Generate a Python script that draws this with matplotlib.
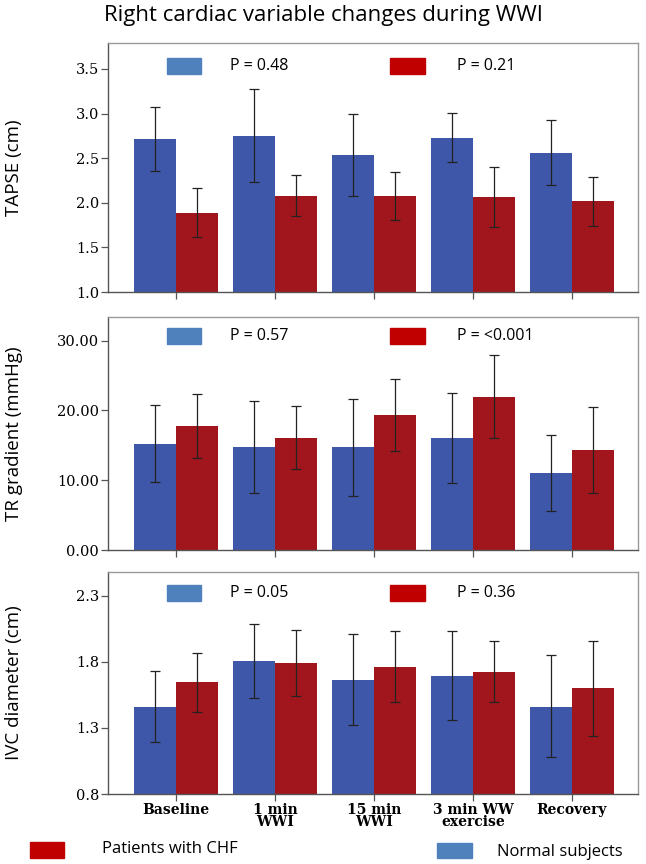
import matplotlib
matplotlib.use("Agg")
import matplotlib.pyplot as plt
from matplotlib.patches import Rectangle

categories = ["Baseline", "1 min\nWWI", "15 min\nWWI", "3 min WW\nexercise", "Recovery"]

tapse_normal = [2.71, 2.75, 2.54, 2.73, 2.56]
tapse_normal_lo = [2.36, 2.23, 2.08, 2.46, 2.20]
tapse_normal_hi = [3.07, 3.28, 3.00, 3.01, 2.93]
tapse_chf = [1.89, 2.08, 2.08, 2.06, 2.02]
tapse_chf_lo = [1.62, 1.85, 1.81, 1.73, 1.74]
tapse_chf_hi = [2.17, 2.31, 2.34, 2.40, 2.29]

tr_normal = [15.2, 14.8, 14.7, 16.1, 11.0]
tr_normal_lo = [9.7, 8.2, 7.7, 9.6, 5.6]
tr_normal_hi = [20.8, 21.3, 21.7, 22.5, 16.5]
tr_chf = [17.8, 16.1, 19.3, 22.0, 14.3]
tr_chf_lo = [13.2, 11.6, 14.2, 16.1, 8.1]
tr_chf_hi = [22.4, 20.6, 24.5, 28.0, 20.5]

ivc_normal = [1.46, 1.81, 1.66, 1.69, 1.46]
ivc_normal_lo = [1.19, 1.53, 1.32, 1.36, 1.08]
ivc_normal_hi = [1.73, 2.09, 2.01, 2.03, 1.85]
ivc_chf = [1.645, 1.79, 1.76, 1.725, 1.60]
ivc_chf_lo = [1.42, 1.54, 1.50, 1.50, 1.24]
ivc_chf_hi = [1.87, 2.04, 2.03, 1.955, 1.96]

p_normal = ["P = 0.48", "P = 0.57", "P = 0.05"]
p_chf = ["P = 0.21", "P = <0.001", "P = 0.36"]

BAR_BLUE = "#3f57a9"
BAR_RED = "#a1161c"
KEY_BLUE = "#4f81bd"
KEY_RED = "#c00000"
W, H = 646, 864

fig = plt.figure(figsize=(W / 100, H / 100), dpi=100)


def px_axes(l, t, r, b):
    return fig.add_axes([l / W, 1 - b / H, (r - l) / W, (b - t) / H])


def key(x0, y0, x1, y1, color):
    fig.patches.append(Rectangle((x0 / W, 1 - y1 / H), (x1 - x0) / W, (y1 - y0) / H,
                                 transform=fig.transFigure, color=color))


def text_px(x, y, s, **kw):
    fig.text(x / W, 1 - y / H, s, va="center", **kw)


panels = [
    (tapse_normal, tapse_normal_lo, tapse_normal_hi, tapse_chf, tapse_chf_lo, tapse_chf_hi,
     (43, 292), (1.0, 3.79), [1.0, 1.5, 2.0, 2.5, 3.0, 3.5], "{:.1f}", "TAPSE (cm)", 66),
    (tr_normal, tr_normal_lo, tr_normal_hi, tr_chf, tr_chf_lo, tr_chf_hi,
     (317, 550), (0, 33.4), [0, 10, 20, 30], "{:.2f}", "TR gradient (mmHg)", 336),
    (ivc_normal, ivc_normal_lo, ivc_normal_hi, ivc_chf, ivc_chf_lo, ivc_chf_hi,
     (572, 794), (0.8, 2.48), [0.8, 1.3, 1.8, 2.3], "{:.1f}", "IVC diameter (cm)", 593),
]

x = list(range(len(categories)))
bw = 0.42
for i, (nv, nlo, nhi, cv, clo, chi, (top, bot), ylim, yt, fmt, ylab, ky) in enumerate(panels):
    ax = px_axes(108, top, 638, bot)
    xn = [v - bw / 2 for v in x]
    xc = [v + bw / 2 for v in x]
    ax.bar(xn, nv, width=bw, color=BAR_BLUE, zorder=2)
    ax.bar(xc, cv, width=bw, color=BAR_RED, zorder=2)
    for xs, v, lo, hi in [(xn, nv, nlo, nhi), (xc, cv, clo, chi)]:
        ax.errorbar(xs, v, yerr=[[a - b for a, b in zip(v, lo)], [b - a for a, b in zip(v, hi)]],
                    fmt="none", ecolor="#222222", elinewidth=0.9, capsize=3.5, capthick=0.9, zorder=3)
    ax.set_xlim(-0.687, 4.667)
    ax.set_ylim(*ylim)
    ax.set_yticks(yt)
    ax.set_yticklabels([fmt.format(t) for t in yt], family="DejaVu Serif", fontsize=10.5)
    ax.set_xticks(x)
    if i == 2:
        ax.set_xticklabels(categories, family="DejaVu Serif", fontweight="bold",
                           fontsize=10, linespacing=0.8)
    else:
        ax.set_xticklabels([])
    ax.tick_params(axis="both", direction="out", length=5, width=0.9, color="#555555", pad=1.5)
    for side, sp in ax.spines.items():
        sp.set_color("#555555" if side in ("left", "bottom") else "#999999")
        sp.set_linewidth(1.0)
    ax.set_ylabel(ylab, family="Open Sans", fontsize=13.5)
    ax.yaxis.set_label_coords(-0.16, 0.5)

    key(167, ky - 8, 201, ky + 8, KEY_BLUE)
    key(390, ky - 8, 425, ky + 8, KEY_RED)
    text_px(230, ky, p_normal[i], family="Open Sans", fontsize=11.5)
    text_px(457, ky, p_chf[i], family="Open Sans", fontsize=11.5)

fig.text(0.5, 1 - 15 / H, "Right cardiac variable changes during WWI",
         ha="center", va="center", family="Open Sans", fontsize=16)

key(30, 842, 64, 858, KEY_RED)
text_px(102, 849, "Patients with CHF", family="Open Sans", fontsize=12)
key(437, 843, 472, 858, KEY_BLUE)
text_px(497, 852, "Normal subjects", family="Open Sans", fontsize=12)

fig.savefig("out.png", dpi=100)
